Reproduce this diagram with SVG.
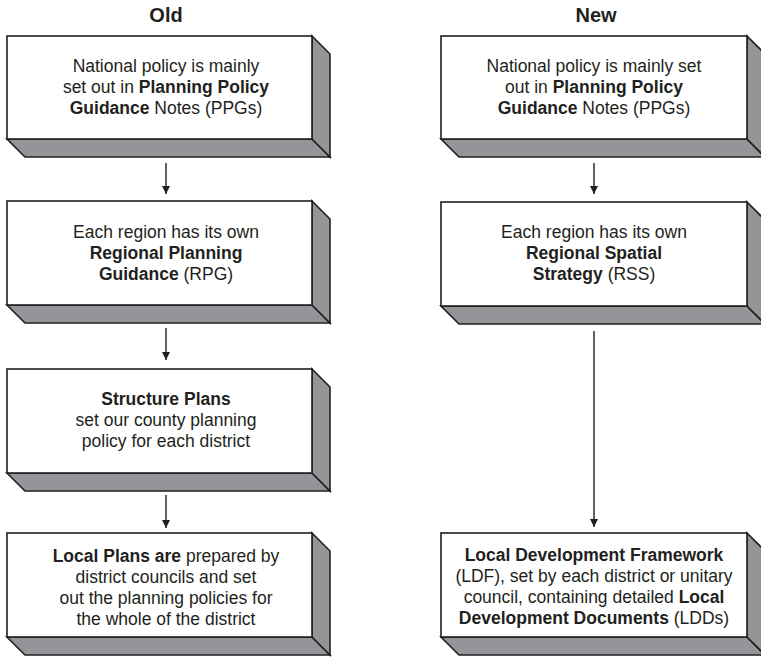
<svg xmlns="http://www.w3.org/2000/svg" width="761" height="657" viewBox="0 0 761 657">
<style>
.bg{fill:#ffffff}
.face{fill:#939598;stroke:#231f20;stroke-width:1.6;stroke-linejoin:miter}
.front{fill:#ffffff;stroke:#231f20;stroke-width:1.6}
.t{font-family:"Liberation Sans",Arial,Helvetica,sans-serif;font-size:17.5px;fill:#231f20;text-anchor:middle}
.b{font-weight:bold}
.title{font-family:"Liberation Sans",Arial,Helvetica,sans-serif;font-size:20px;font-weight:bold;fill:#231f20;text-anchor:middle}
.conn{stroke:#231f20;stroke-width:1.4;fill:none}
</style>
<defs>
<marker id="ah" viewBox="0 0 8 8" refX="8" refY="4" markerWidth="8" markerHeight="8" orient="auto" markerUnits="userSpaceOnUse">
<path d="M0,0 L8,4 L0,8 z" fill="#231f20"/>
</marker>
</defs>
<rect class="bg" x="0" y="0" width="761" height="657"/>

<text class="title" x="166" y="22">Old</text>
<text class="title" x="596" y="22">New</text>

<g id="old1">
<polygon class="face" points="7,139 312,139 330,157 25,157"/>
<polygon class="face" points="312,36 330,54 330,157 312,139"/>
<rect class="front" x="7" y="36" width="305" height="103"/>
<text class="t"><tspan x="166" y="72">National policy is mainly</tspan><tspan x="166" y="93">set out in <tspan class="b">Planning Policy</tspan></tspan><tspan x="166" y="113.5"><tspan class="b">Guidance</tspan> Notes (PPGs)</tspan></text>
</g>

<g id="old2">
<polygon class="face" points="7,305 312,305 330,323 25,323"/>
<polygon class="face" points="312,201 330,219 330,323 312,305"/>
<rect class="front" x="7" y="201" width="305" height="104"/>
<text class="t"><tspan x="166" y="237.5">Each region has its own</tspan><tspan class="b" x="166" y="259">Regional Planning</tspan><tspan x="166" y="280"><tspan class="b">Guidance</tspan> (RPG)</tspan></text>
</g>

<g id="old3">
<polygon class="face" points="7,473 312,473 330,491 25,491"/>
<polygon class="face" points="312,369 330,387 330,491 312,473"/>
<rect class="front" x="7" y="369" width="305" height="104"/>
<text class="t"><tspan class="b" x="166" y="405">Structure Plans</tspan><tspan x="166" y="426">set our county planning</tspan><tspan x="166" y="447">policy for each district</tspan></text>
</g>

<g id="old4">
<polygon class="face" points="7,637 312,637 330,655 25,655"/>
<polygon class="face" points="312,533 330,551 330,655 312,637"/>
<rect class="front" x="7" y="533" width="305" height="104"/>
<text class="t"><tspan x="166" y="561.5"><tspan class="b">Local Plans are</tspan> prepared by</tspan><tspan x="166" y="583">district councils and set</tspan><tspan x="166" y="604">out the planning policies for</tspan><tspan x="166" y="625">the whole of the district</tspan></text>
</g>

<g id="new1">
<polygon class="face" points="441,139 747,139 765,157 459,157"/>
<polygon class="face" points="747,36 765,54 765,157 747,139"/>
<rect class="front" x="441" y="36" width="306" height="103"/>
<text class="t"><tspan x="594" y="72">National policy is mainly set</tspan><tspan x="594" y="93">out in <tspan class="b">Planning Policy</tspan></tspan><tspan x="594" y="113.5"><tspan class="b">Guidance</tspan> Notes (PPGs)</tspan></text>
</g>

<g id="new2">
<polygon class="face" points="441,306 747,306 765,324 459,324"/>
<polygon class="face" points="747,202 765,220 765,324 747,306"/>
<rect class="front" x="441" y="202" width="306" height="104"/>
<text class="t"><tspan x="594" y="237.5">Each region has its own</tspan><tspan class="b" x="594" y="259">Regional Spatial</tspan><tspan x="594" y="280"><tspan class="b">Strategy</tspan> (RSS)</tspan></text>
</g>

<g id="new3">
<polygon class="face" points="441,637 747,637 765,655 459,655"/>
<polygon class="face" points="747,533 765,551 765,655 747,637"/>
<rect class="front" x="441" y="533" width="306" height="104"/>
<text class="t"><tspan class="b" x="594" y="560.5">Local Development Framework</tspan><tspan x="594" y="581.5">(LDF), set by each district or unitary</tspan><tspan x="594" y="602.5">council, containing detailed <tspan class="b">Local</tspan></tspan><tspan x="594" y="623.5"><tspan class="b">Development Documents</tspan> (LDDs)</tspan></text>
</g>

<g id="connectors">
<line class="conn" x1="166" y1="163" x2="166" y2="194" marker-end="url(#ah)"/>
<line class="conn" x1="166" y1="328" x2="166" y2="360" marker-end="url(#ah)"/>
<line class="conn" x1="166" y1="495" x2="166" y2="528" marker-end="url(#ah)"/>
<line class="conn" x1="594" y1="163" x2="594" y2="194" marker-end="url(#ah)"/>
<line class="conn" x1="594" y1="331" x2="594" y2="527" marker-end="url(#ah)"/>
</g>
</svg>
